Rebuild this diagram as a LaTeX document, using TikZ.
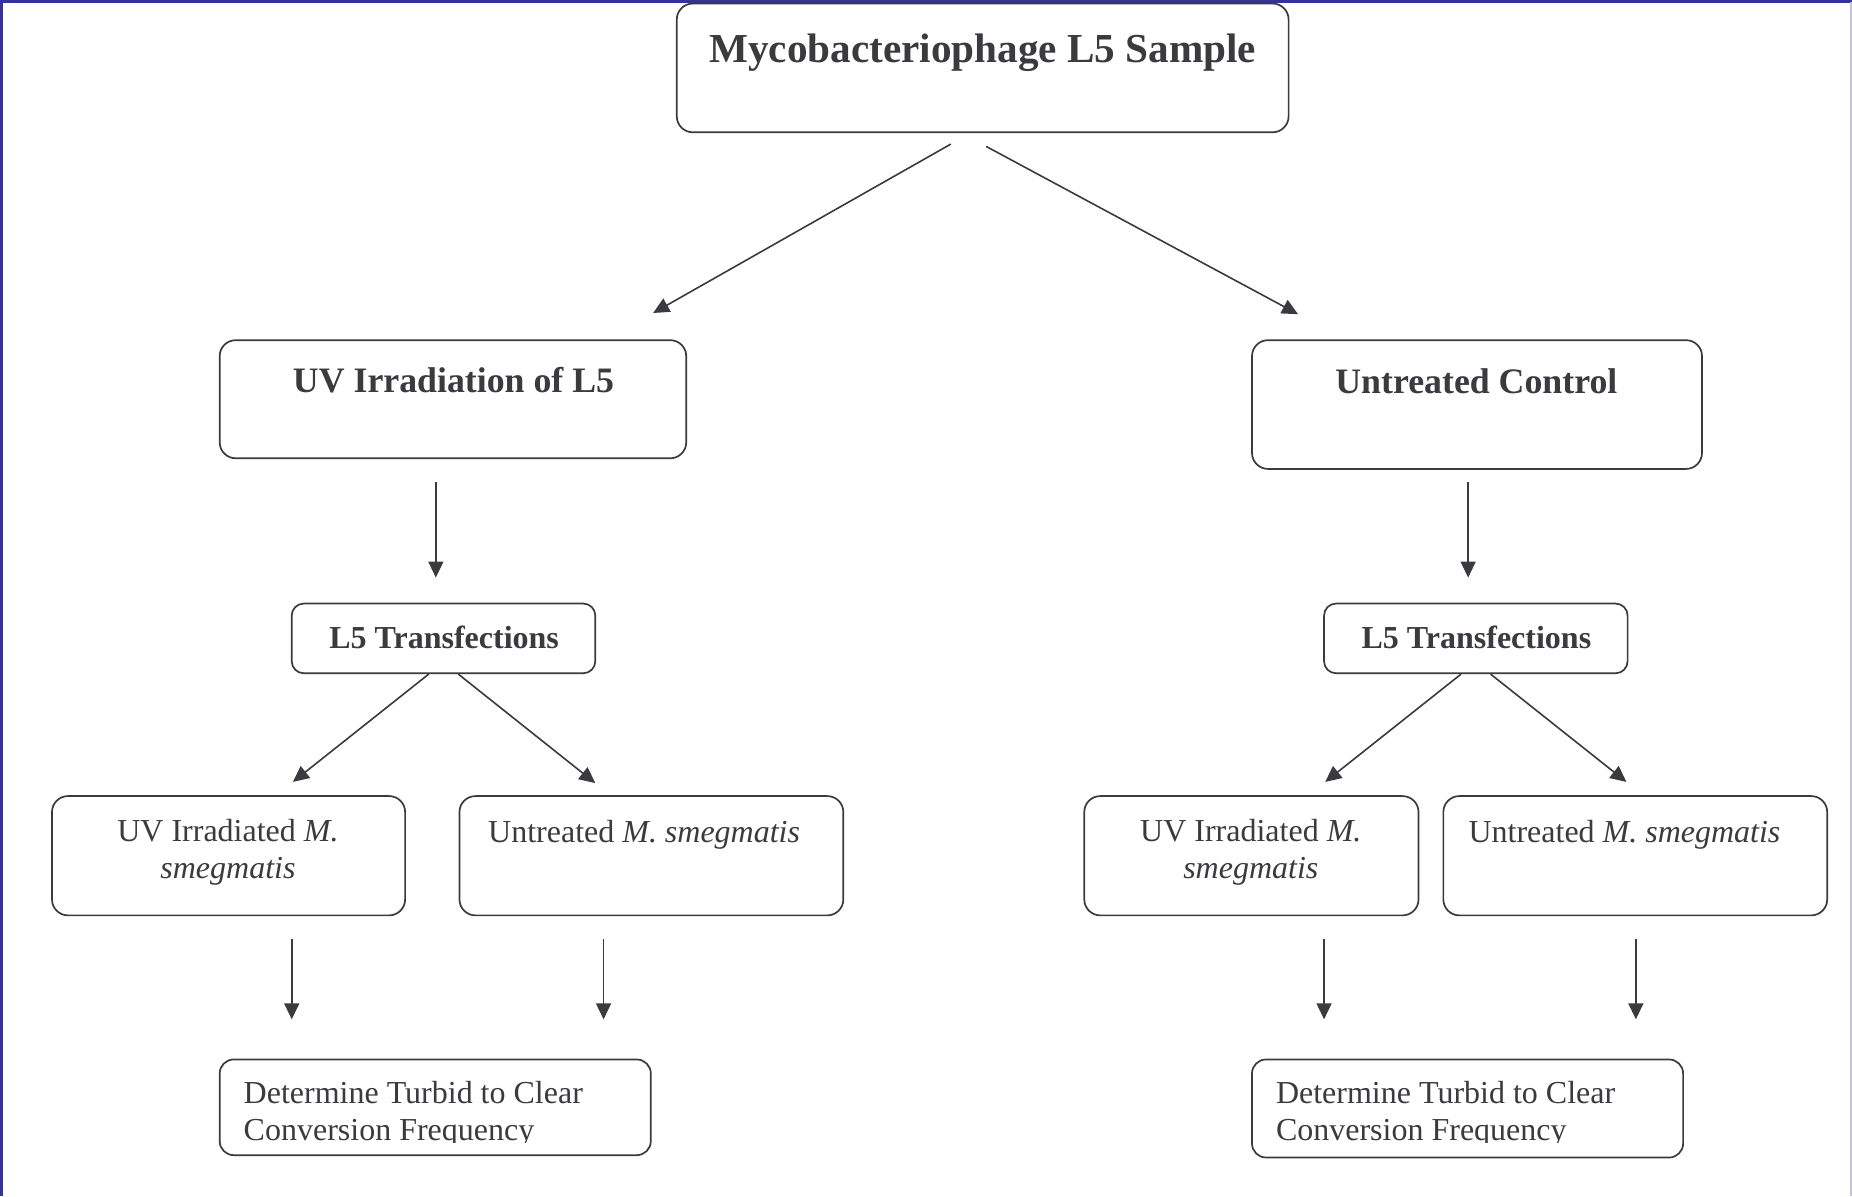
\documentclass[tikz,border=0pt]{standalone}
\usepackage{fontspec}
\setmainfont{Liberation Serif}
\usetikzlibrary{arrows.meta,fit}
\definecolor{ink}{HTML}{3A3A3F}
\definecolor{frameblue}{HTML}{333399}
\definecolor{framelight}{HTML}{C8C0D8}
\begin{document}
\begin{tikzpicture}[x=0.5906pt,y=-0.5906pt,
  box/.style={draw=ink, line width=0.85pt, rounded corners=8pt, inner sep=0pt},
  arr/.style={draw=ink, line width=0.8pt, -{Triangle[length=8pt,width=7.5pt]}},
  bigb/.style={text=ink, font=\fontsize{20.6}{24}\selectfont\bfseries, inner sep=0pt, anchor=base},
  midb/.style={text=ink, font=\fontsize{17.9}{21}\selectfont\bfseries, inner sep=0pt, anchor=base},
  smb/.style={text=ink, font=\fontsize{16}{19}\selectfont\bfseries, inner sep=0pt, anchor=base},
  txt/.style={text=ink, font=\fontsize{16}{18.5}\selectfont, inner sep=0pt}]
\path[use as bounding box] (0,0) rectangle (1568,1013);
\fill[white] (0,0) rectangle (1568,1013);
\draw[frameblue, line width=1.4pt] (1.6,1013) -- (1.6,1.3) -- (1568,1.3);
\draw[framelight, line width=0.8pt] (1567.2,1.3) -- (1567.2,1013);

% boxes
\node[box, fit={(573,3) (1091,112)}] (top) {};
\node[box, fit={(186,288) (581,388)}] (uv) {};
\node[box, fit={(1060,288) (1441,397)}] (ctl) {};
\node[box, rounded corners=6pt, fit={(247,511) (504,570)}] (tl) {};
\node[box, rounded corners=6pt, fit={(1121,511) (1378,570)}] (tr) {};
\node[box, fit={(44,674) (343,775)}] (uvl) {};
\node[box, fit={(389,674) (714,775)}] (unl) {};
\node[box, fit={(918,674) (1201,775)}] (uvr) {};
\node[box, fit={(1222,674) (1547,775)}] (unr) {};
\node[box, rounded corners=7pt, fit={(186,897) (551,978)}] (dl) {};
\node[box, rounded corners=7pt, fit={(1060,897) (1425,980)}] (dr) {};

% texts
\node[bigb] (ttop) at (832,53) {Mycobacteriophage L5 Sample};
\node[midb] (tuv) at (384,332) {UV Irradiation of L5};
\node[midb] (tctl) at (1250,333) {Untreated Control};
\node[smb] (ttl) at (376,549) {L5 Transfections};
\node[smb] (ttr) at (1250,549) {L5 Transfections};
\node[txt, align=center, anchor=base] (tuvl) at (193,744) {UV Irradiated \textit{M.}\\\textit{smegmatis}};
\node[txt, anchor=base west] (tunl) at (413,713) {Untreated \textit{M. smegmatis}};
\node[txt, align=center, anchor=base] (tuvr) at (1059,744) {UV Irradiated \textit{M.}\\\textit{smegmatis}};
\node[txt, anchor=base west] (tunr) at (1243,713) {Untreated \textit{M. smegmatis}};
\begin{scope}
  \clip (186,897) rectangle (551,967);
  \node[txt, align=left, anchor=base west] (tdl) at (206,966) {Determine Turbid to Clear\\Conversion Frequency};
\end{scope}
\begin{scope}
  \clip (1060,897) rectangle (1425,967);
  \node[txt, align=left, anchor=base west] (tdr) at (1080,966) {Determine Turbid to Clear\\Conversion Frequency};
\end{scope}

% connector end points
\coordinate (a1s) at (805,122); \coordinate (a1e) at (553,265);
\coordinate (a2s) at (835,124); \coordinate (a2e) at (1099,266);
\coordinate (a3s) at (369,408); \coordinate (a3e) at (369,489);
\coordinate (a4s) at (1243,408); \coordinate (a4e) at (1243,489);
\coordinate (a5e) at (248,662); \coordinate (a6e) at (504,663);
\coordinate (a7e) at (1122,662); \coordinate (a8e) at (1377,662);
\coordinate (a9s) at (247,795); \coordinate (a9e) at (247,863);
\coordinate (a10s) at (511,795); \coordinate (a10e) at (511,863);
\coordinate (a11s) at (1121,795); \coordinate (a11e) at (1121,863);
\coordinate (a12s) at (1385,795); \coordinate (a12e) at (1385,863);

\draw[arr] (a1s) -- (a1e);
\draw[arr] (a2s) -- (a2e);
\draw[arr] (a3s) -- (a3e);
\draw[arr] (a4s) -- (a4e);
\draw[arr] (tl.south -| 363,0) -- (a5e);
\draw[arr] (tl.south -| 388,0) -- (a6e);
\draw[arr] (tr.south -| 1237,0) -- (a7e);
\draw[arr] (tr.south -| 1262,0) -- (a8e);
\draw[arr] (a9s) -- (a9e);
\draw[arr] (a10s) -- (a10e);
\draw[arr] (a11s) -- (a11e);
\draw[arr] (a12s) -- (a12e);
\end{tikzpicture}
\end{document}
